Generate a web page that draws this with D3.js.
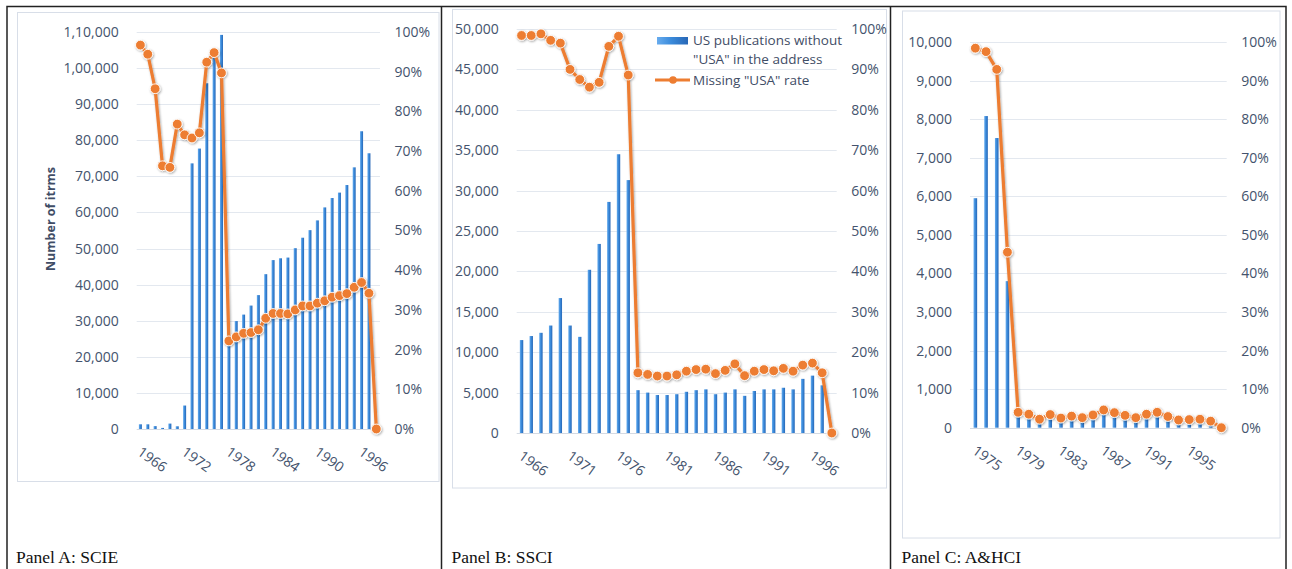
<!DOCTYPE html>
<html>
<head>
<meta charset="utf-8">
<script src="https://cdn.jsdelivr.net/npm/d3@7"></script>
<style>
  body { margin: 0; background: #fff; }
  svg { display: block; }
</style>
</head>
<body>
<svg id="chart" width="1292" height="569"></svg>
<script>
// ---- data ----
const yearsA = [1966,1967,1968,1969,1970,1971,1972,1973,1974,1975,1976,1977,1978,1979,1980,1981,1982,1983,1984,1985,1986,1987,1988,1989,1990,1991,1992,1993,1994,1995,1996,1997,1998];
const itemsA = [1300,1300,800,300,1500,750,6500,73600,77700,95800,104000,109200,26000,29900,31700,34200,37100,42900,46800,47300,47500,50100,53000,55100,57800,61400,64000,65500,67600,72500,82500,76400,0];
const rateA  = [96.7,94.4,85.7,66.3,65.9,76.8,74.1,73.3,74.6,92.4,94.8,89.7,22.2,23.2,24.1,24.3,25.0,27.9,29.1,29.1,29.0,30.0,31.0,31.0,31.7,32.3,33.2,33.6,34.1,35.7,36.9,34.2,0];

const yearsB = [1966,1967,1968,1969,1970,1971,1972,1973,1974,1975,1976,1977,1978,1979,1980,1981,1982,1983,1984,1985,1986,1987,1988,1989,1990,1991,1992,1993,1994,1995,1996,1997,1998];
const itemsB = [11500,12000,12400,13300,16700,13300,11900,20200,23400,28600,34500,31300,5300,5000,4700,4700,4800,5100,5300,5400,4800,5000,5400,4600,5200,5400,5400,5600,5400,6700,7100,5900,0];
const rateB  = [98.4,98.4,98.8,97.2,96.5,90.0,87.5,85.6,86.8,95.7,98.2,88.6,14.9,14.5,14.1,14.1,14.4,15.3,15.7,15.8,14.7,15.5,17.1,14.2,15.3,15.7,15.4,16.0,15.3,16.8,17.3,14.9,0];

const yearsC = [1975,1976,1977,1978,1979,1980,1981,1982,1983,1984,1985,1986,1987,1988,1989,1990,1991,1992,1993,1994,1995,1996,1997,1998];
const itemsC = [5950,8080,7510,3800,380,350,200,330,240,280,250,310,440,380,310,250,330,380,280,190,200,210,160,0];
const rateC  = [98.4,97.5,92.9,45.5,4.0,3.5,2.2,3.4,2.5,3.0,2.6,3.3,4.6,3.9,3.2,2.6,3.5,4.0,2.9,2.0,2.1,2.2,1.7,0];

const leftTicksA = [0,10000,20000,30000,40000,50000,60000,70000,80000,90000,100000,110000];
const leftLabelsA = ["0","10,000","20,000","30,000","40,000","50,000","60,000","70,000","80,000","90,000","1,00,000","1,10,000"];
const leftTicksB = [0,5000,10000,15000,20000,25000,30000,35000,40000,45000,50000];
const leftLabelsB = ["0","5,000","10,000","15,000","20,000","25,000","30,000","35,000","40,000","45,000","50,000"];
const leftTicksC = [0,1000,2000,3000,4000,5000,6000,7000,8000,9000,10000];
const leftLabelsC = ["0","1,000","2,000","3,000","4,000","5,000","6,000","7,000","8,000","9,000","10,000"];
const pctTicks = [0,10,20,30,40,50,60,70,80,90,100];
const pctLabels = ["0%","10%","20%","30%","40%","50%","60%","70%","80%","90%","100%"];

const xTicksA = [1966,1972,1978,1984,1990,1996];
const xTicksB = [1966,1971,1976,1981,1986,1991,1996];
const xTicksC = [1975,1979,1983,1987,1991,1995];

const legendLabels = [["US publications without", "\"USA\" in the address"], ["Missing \"USA\" rate"]];

// ---- drawing ----
const svg = d3.select("#chart");
const TXT = "#44536d";
const ORANGE = "#ed7d31";
const FONT = "'Open Sans', sans-serif";

const defs = svg.append("defs");
const grad = defs.append("linearGradient").attr("id", "barGrad")
    .attr("x1", "0%").attr("x2", "100%").attr("y1", "0%").attr("y2", "0%");
grad.append("stop").attr("offset", "0%").attr("stop-color", "#68acee");
grad.append("stop").attr("offset", "45%").attr("stop-color", "#3b8bdb");
grad.append("stop").attr("offset", "100%").attr("stop-color", "#2867b6");

const shadow = defs.append("filter").attr("id", "shadow")
    .attr("x", "-20%").attr("y", "-20%").attr("width", "140%").attr("height", "140%");
shadow.append("feDropShadow").attr("dx", 0.8).attr("dy", 1).attr("stdDeviation", 0.9)
    .attr("flood-color", "#000").attr("flood-opacity", 0.35);

function drawPanel(p) {
  // light inner frame of the chart object
  svg.append("rect")
      .attr("x", p.box[0]).attr("y", p.box[1])
      .attr("width", p.box[2] - p.box[0]).attr("height", p.box[3] - p.box[1])
      .attr("fill", "#fff").attr("stroke", "#d8dee8").attr("stroke-width", 1);

  const x = d3.scaleBand().domain(p.years).range([p.left, p.right]);
  const yL = d3.scaleLinear().domain([0, d3.max(p.leftTicks)]).range([p.y0, p.y1]);
  const yR = d3.scaleLinear().domain([0, 100]).range([p.y0, p.y1]);
  const bw = x.bandwidth();

  // gridlines
  svg.append("g").selectAll("line").data(p.leftTicks).join("line")
      .attr("x1", p.left).attr("x2", p.right)
      .attr("y1", d => Math.round(yL(d)) + 0.5).attr("y2", d => Math.round(yL(d)) + 0.5)
      .attr("stroke", d => d === 0 ? "#d4dae3" : "#e3e8ef").attr("stroke-width", 1);

  // left axis
  const gl = svg.append("g").attr("transform", `translate(${p.left},0)`)
      .call(d3.axisLeft(yL).tickValues(p.leftTicks)
          .tickFormat((d, i) => p.leftLabels[i]).tickSize(0).tickPadding(18));
  gl.select(".domain").remove();
  gl.selectAll("text").attr("font-family", FONT).attr("font-size", 14).attr("fill", TXT);

  // right axis
  const gr = svg.append("g").attr("transform", `translate(${p.right},0)`)
      .call(d3.axisRight(yR).tickValues(pctTicks)
          .tickFormat((d, i) => pctLabels[i]).tickSize(0).tickPadding(14.5));
  gr.select(".domain").remove();
  gr.selectAll("text").attr("font-family", FONT).attr("font-size", 14).attr("fill", TXT);

  // bottom axis (rotated year labels)
  const gb = svg.append("g").attr("transform", `translate(0,${p.y0})`)
      .call(d3.axisBottom(x).tickValues(p.xTicks).tickSize(0));
  gb.select(".domain").remove();
  gb.selectAll("text")
      .attr("font-family", FONT).attr("font-size", 14).attr("fill", TXT)
      .attr("text-anchor", "start").attr("x", 0).attr("y", 0).attr("dy", "0.35em")
      .attr("transform", "translate(-1,21) rotate(36)");

  // bars
  svg.append("g").selectAll("rect").data(p.years).join("rect")
      .attr("x", d => x(d) + (bw - p.barW) / 2)
      .attr("width", p.barW)
      .attr("y", (d, i) => yL(p.items[i]))
      .attr("height", (d, i) => p.y0 - yL(p.items[i]))
      .attr("fill", "url(#barGrad)");

  // rate line with markers
  const pts = p.years.map((d, i) => [x(d) + bw / 2, yR(p.rates[i])]);
  const lg = svg.append("g").attr("filter", "url(#shadow)");
  lg.append("path")
      .attr("d", d3.line()(pts))
      .attr("fill", "none").attr("stroke", ORANGE).attr("stroke-width", 3.2)
      .attr("stroke-linejoin", "round");
  lg.selectAll("circle").data(pts).join("circle")
      .attr("cx", d => d[0]).attr("cy", d => d[1]).attr("r", 4.9)
      .attr("fill", ORANGE).attr("stroke", "#fff").attr("stroke-width", 0.9);

  // panel caption
  svg.append("text").attr("x", p.captionX).attr("y", 563)
      .attr("font-family", "'Liberation Serif', 'Times New Roman', serif")
      .attr("font-size", 17.5).attr("fill", "#111").text(p.caption);
}

drawPanel({
  years: yearsA, items: itemsA, rates: rateA,
  leftTicks: leftTicksA, leftLabels: leftLabelsA, xTicks: xTicksA,
  left: 136.7, right: 380, y0: 429, y1: 32, barW: 3,
  box: [17.5, 12.5, 439, 481.5], caption: "Panel A: SCIE", captionX: 16
});
drawPanel({
  years: yearsB, items: itemsB, rates: rateB,
  leftTicks: leftTicksB, leftLabels: leftLabelsB, xTicks: xTicksB,
  left: 516.7, right: 836.7, y0: 433, y1: 29, barW: 3.4,
  box: [452.5, 9.5, 886.5, 488], caption: "Panel B: SSCI", captionX: 451.5
});
drawPanel({
  years: yearsC, items: itemsC, rates: rateC,
  leftTicks: leftTicksC, leftLabels: leftLabelsC, xTicks: xTicksC,
  left: 970, right: 1226.7, y0: 427.7, y1: 42, barW: 3.6,
  box: [902.5, 11, 1280, 538], caption: "Panel C: A&HCI", captionX: 901.5
});

// legend (panel B)
const leg = svg.append("g").attr("font-family", FONT).attr("font-size", 13.5).attr("fill", "#3f4d66");
leg.append("rect").attr("x", 657).attr("y", 37).attr("width", 31).attr("height", 7.5).attr("fill", "url(#barGrad)");
leg.append("text").attr("x", 693).attr("y", 45).text(legendLabels[0][0]);
leg.append("text").attr("x", 693).attr("y", 64).text(legendLabels[0][1]);
leg.append("line").attr("x1", 655).attr("x2", 690).attr("y1", 80).attr("y2", 80)
    .attr("stroke", ORANGE).attr("stroke-width", 3);
leg.append("circle").attr("cx", 673).attr("cy", 80).attr("r", 3.8).attr("fill", ORANGE);
leg.append("text").attr("x", 693).attr("y", 85).text(legendLabels[1][0]);

// y-axis title of panel A
svg.append("text")
    .attr("transform", "translate(54.5,219) rotate(-90)")
    .attr("text-anchor", "middle")
    .attr("font-family", FONT).attr("font-size", 12.5).attr("font-weight", "bold")
    .attr("fill", "#3f4d66").text("Number of itrms");

// outer page frame with panel dividers
const frame = svg.append("g").attr("stroke", "#222").attr("stroke-width", 1.5).attr("fill", "none");
frame.append("path").attr("d", "M7,569 V6.5 H1286 V569");
frame.append("line").attr("x1", 441.5).attr("x2", 441.5).attr("y1", 6.5).attr("y2", 569);
frame.append("line").attr("x1", 890.5).attr("x2", 890.5).attr("y1", 6.5).attr("y2", 569);
</script>
</body>
</html>
